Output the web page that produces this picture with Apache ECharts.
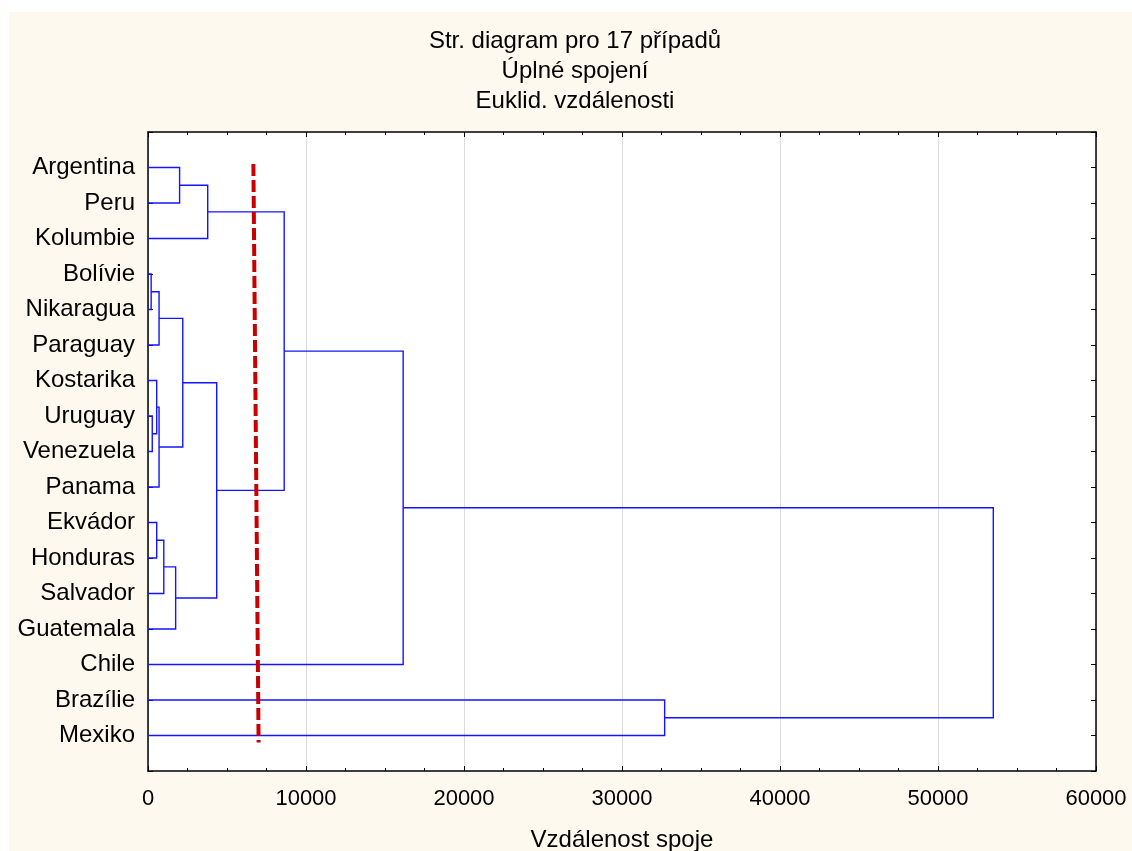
<!DOCTYPE html>
<html lang="cs">
<head>
<meta charset="UTF-8">
<title>Str. diagram pro 17 případů</title>
<script src="https://cdn.jsdelivr.net/npm/echarts@6/dist/echarts.min.js"></script>
<style>
    body { margin: 0; background: #fff; }
    #bg {
        position: absolute; left: 9px; top: 12px;
        width: 1123px; height: 839px;
        background: #fdf9ee;
    }
    #main {
        position: absolute; left: 0; top: 0;
        width: 1132px; height: 851px;
    }
</style>
</head>
<body>
<div id="bg"></div>
<div id="main"></div>
<script>
    // listy stromu (poradi odshora)
    const leaves = ['Argentina', 'Peru', 'Kolumbie', 'Bolívie', 'Nikaragua', 'Paraguay',
        'Kostarika', 'Uruguay', 'Venezuela', 'Panama', 'Ekvádor', 'Honduras',
        'Salvador', 'Guatemala', 'Chile', 'Brazílie', 'Mexiko'];

    // spojeni: uzel a + uzel b -> novy uzel (id 17, 18, ...) ve vzdalenosti h
    const mergeA = [3, 7, 6, 10, 17, 19, 20, 23, 0, 21, 25, 26, 27, 29, 15, 30];
    const mergeB = [4, 8, 18, 11, 5, 9, 12, 13, 1, 22, 2, 24, 28, 14, 16, 31];
    const mergeH = [200, 270, 550, 550, 700, 700, 1000, 1750, 2000, 2200, 3780, 4350, 8620, 16150, 32700, 53500];

    // red cut line
    const cutX = [6670, 7000];
    const cutY = [-0.1, 16.2];

    const font = '"Liberation Sans", Arial, sans-serif';

    // poloha uzlu
    let nodeX = leaves.map(() => 0);
    let nodeY = leaves.map((_, i) => i);
    let paths = [];
    for (let i = 0; i < mergeH.length; i++) {
        let a = mergeA[i], b = mergeB[i], h = mergeH[i];
        paths.push({
            coords: [[nodeX[a], nodeY[a]], [h, nodeY[a]], [h, nodeY[b]], [nodeX[b], nodeY[b]]]
        });
        nodeX.push(h);
        nodeY.push((nodeY[a] + nodeY[b]) / 2);
    }

    const frame = { show: true, onZero: false, lineStyle: { color: '#000', width: 1.5 } };
    const tick = { show: true, inside: true, length: 5, lineStyle: { color: '#000' } };

    var myChart = echarts.init(document.getElementById('main'));
    var option = {
        backgroundColor: 'transparent',
        animation: false,
        title: {
            text: 'Str. diagram pro 17 případů\nÚplné spojení\nEuklid. vzdálenosti',
            left: 575,
            top: 26,
            padding: 0,
            textAlign: 'center',
            textStyle: {
                fontFamily: font, fontSize: 24, fontWeight: 'normal',
                color: '#000', lineHeight: 30
            }
        },
        grid: {
            left: 148, right: 36, top: 132, bottom: 80,
            outerBoundsMode: 'none',
            show: true, backgroundColor: '#fff', borderWidth: 0
        },
        xAxis: [
            {
                type: 'value', position: 'bottom',
                min: 0, max: 60000, interval: 10000,
                name: 'Vzdálenost spoje', nameLocation: 'middle', nameGap: 57,
                nameTextStyle: { fontFamily: font, fontSize: 24, color: '#000' },
                axisLine: frame,
                axisTick: tick,
                minorTick: { show: true, splitNumber: 4, length: 3, lineStyle: { color: '#000' } },
                axisLabel: {
                    fontFamily: font, fontSize: 22, color: '#000', margin: 17,
                    formatter: v => String(v)
                },
                splitLine: { show: true, lineStyle: { color: '#dcdcdc', width: 1 } }
            },
            {
                type: 'value', position: 'top',
                min: 0, max: 60000, interval: 10000,
                axisLine: frame,
                axisTick: tick,
                minorTick: { show: true, splitNumber: 4, length: 3, lineStyle: { color: '#000' } },
                axisLabel: { show: false },
                splitLine: { show: false }
            }
        ],
        yAxis: [
            {
                type: 'value', position: 'left', inverse: true,
                min: -1, max: 17, interval: 1,
                axisLine: frame,
                axisTick: tick,
                axisLabel: {
                    fontFamily: font, fontSize: 24, color: '#000', margin: 13,
                    formatter: v => leaves[v] || ''
                },
                splitLine: { show: false }
            },
            {
                type: 'value', position: 'right', inverse: true,
                min: -1, max: 17, interval: 1,
                axisLine: frame,
                axisTick: tick,
                axisLabel: { show: false },
                splitLine: { show: false }
            }
        ],
        series: [
            {
                type: 'lines',
                coordinateSystem: 'cartesian2d',
                polyline: true,
                xAxisIndex: 0, yAxisIndex: 0,
                data: paths,
                lineStyle: { color: '#1414ff', width: 1.4, opacity: 1 },
                silent: true
            },
            {
                type: 'line',
                xAxisIndex: 0, yAxisIndex: 0,
                data: cutX.map((x, i) => [x, cutY[i]]),
                symbol: 'none',
                lineStyle: { color: '#c80000', width: 4, type: [12, 4] },
                z: 5
            }
        ]
    };
    myChart.setOption(option);
</script>
</body>
</html>
